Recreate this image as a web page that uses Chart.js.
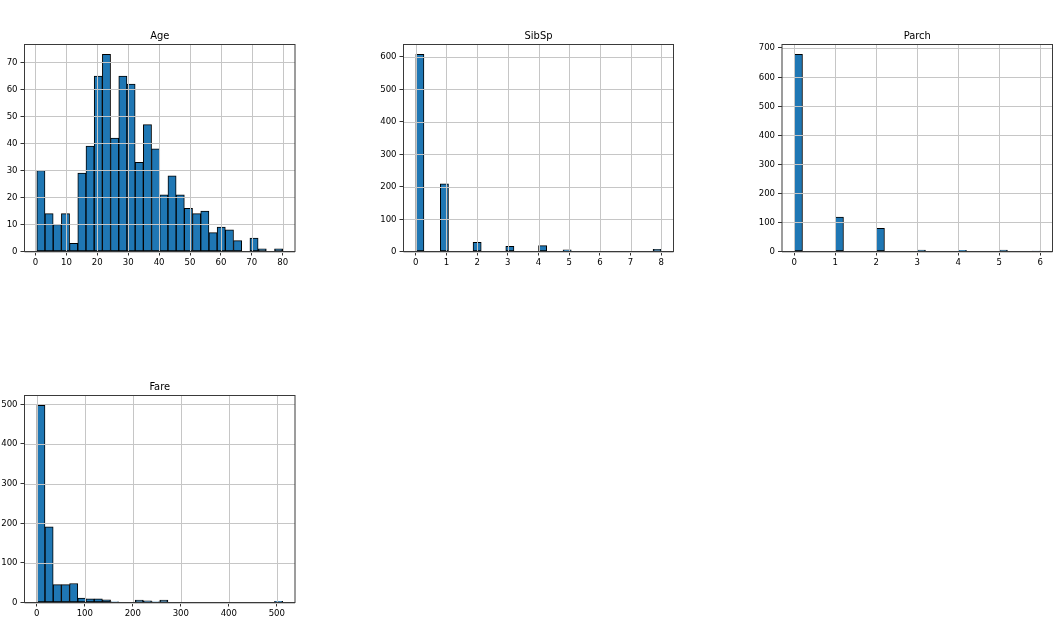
<!DOCTYPE html>
<html>
<head>
<meta charset="utf-8">
<script src="https://cdn.jsdelivr.net/npm/chart.js@4.4.0/dist/chart.umd.min.js"></script>
<style>
  body { margin: 0; background: #fff; width: 1064px; height: 627px; overflow: hidden; position: relative; }
  canvas { position: absolute; }
</style>
</head>
<body>
<canvas id="ageChart"></canvas>
<canvas id="sibspChart"></canvas>
<canvas id="parchChart"></canvas>
<canvas id="fareChart"></canvas>
<script>
// ====== histogram data (30 bins each, counts) ======
const ageRange = [0.42, 80];
const ageCounts = [30, 14, 10, 14, 3, 29, 39, 65, 73, 42, 65, 62, 33, 47, 38,
                   21, 28, 21, 16, 14, 15, 7, 9, 8, 4, 0, 5, 1, 0, 1];
const ageXTicks = [0, 10, 20, 30, 40, 50, 60, 70, 80];
const ageYTicks = [0, 10, 20, 30, 40, 50, 60, 70];

const sibspRange = [0, 8];
const sibspCounts = [608, 0, 0, 209, 0, 0, 0, 28, 0, 0, 0, 16, 0, 0, 0,
                     18, 0, 0, 5, 0, 0, 0, 0, 0, 0, 0, 0, 0, 0, 7];
const sibspXTicks = [0, 1, 2, 3, 4, 5, 6, 7, 8];
const sibspYTicks = [0, 100, 200, 300, 400, 500, 600];

const parchRange = [0, 6];
const parchCounts = [678, 0, 0, 0, 0, 118, 0, 0, 0, 0, 80, 0, 0, 0, 0,
                     5, 0, 0, 0, 0, 4, 0, 0, 0, 0, 5, 0, 0, 0, 1];
const parchXTicks = [0, 1, 2, 3, 4, 5, 6];
const parchYTicks = [0, 100, 200, 300, 400, 500, 600, 700];

const fareRange = [0, 512.3292];
const fareCounts = [497, 191, 45, 45, 48, 11, 9, 9, 7, 2, 0, 0, 6, 4, 2,
                    6, 0, 0, 0, 0, 0, 0, 0, 0, 0, 0, 0, 0, 0, 3];
const fareXTicks = [0, 100, 200, 300, 400, 500];
const fareYTicks = [0, 100, 200, 300, 400, 500];

Chart.defaults.font.family = "'DejaVu Sans Condensed', 'DejaVu Sans', sans-serif";
Chart.defaults.color = '#000';

// grid on top of the bars (like matplotlib) + the axes frame
const overlay = {
  id: 'overlay',
  afterDatasetsDraw(chart) {
    const { ctx, chartArea: a, scales } = chart;
    ctx.save();
    ctx.strokeStyle = '#c6c6c6';
    ctx.lineWidth = 1;
    ctx.beginPath();
    scales.x.ticks.forEach(t => {
      const px = Math.round(scales.x.getPixelForValue(t.value)) + 0.5;
      ctx.moveTo(px, a.top); ctx.lineTo(px, a.bottom);
    });
    scales.y.ticks.forEach(t => {
      const py = Math.round(scales.y.getPixelForValue(t.value)) + 0.5;
      ctx.moveTo(a.left, py); ctx.lineTo(a.right, py);
    });
    ctx.stroke();
    ctx.strokeStyle = '#3a3a3a';
    ctx.strokeRect(a.left, a.top, a.right - a.left, a.bottom - a.top);
    ctx.restore();
  }
};

// box = axes rectangle in page pixels
function makeHist(id, title, range, counts, xTicks, yTicks, box) {
  const xh = 20, titleH = 15, yw = 34;
  const cl = Math.floor(box.l) - 40;
  const ct = Math.floor(box.t) - 30;
  const cw = Math.ceil(box.r) + 12 - cl;
  const ch = Math.ceil(box.b) + 25 - ct;
  const canvas = document.getElementById(id);
  canvas.width = cw; canvas.height = ch;
  canvas.style.left = cl + 'px'; canvas.style.top = ct + 'px';
  canvas.style.width = cw + 'px'; canvas.style.height = ch + 'px';

  const w = (range[1] - range[0]) / counts.length;
  const span = range[1] - range[0];
  const data = counts.map((c, i) => ({ x: range[0] + (i + 0.5) * w, y: c }));

  return new Chart(canvas.getContext('2d'), {
    type: 'bar',
    data: {
      datasets: [{
        label: title,
        data: data,
        backgroundColor: '#1f77b4',
        borderColor: '#000',
        borderWidth: 1,
        borderSkipped: false,
        barPercentage: 1,
        categoryPercentage: 1
      }]
    },
    options: {
      responsive: false,
      animation: false,
      layout: {
        padding: {
          left: box.l - cl - yw,
          top: box.t - ct - titleH,
          right: cl + cw - box.r,
          bottom: ct + ch - box.b - xh
        }
      },
      plugins: {
        legend: { display: false },
        tooltip: { enabled: false },
        title: {
          display: true, text: title, fullSize: false,
          font: { size: 11, weight: 'normal', lineHeight: 1.2 }, color: '#000',
          padding: { top: 0, bottom: 15 - 13.2 }
        }
      },
      scales: {
        x: {
          type: 'linear', offset: false,
          min: range[0] - 0.05 * span, max: range[1] + 0.05 * span,
          afterBuildTicks: s => { s.ticks = xTicks.map(v => ({ value: v })); },
          afterFit: s => { s.height = xh; },
          grid: { offset: false, drawOnChartArea: false, tickLength: 4, tickColor: '#333', lineWidth: 1 },
          border: { display: false },
          ticks: { font: { size: 9.5 }, padding: 1.5, maxRotation: 0, autoSkip: false, callback: v => String(v) }
        },
        y: {
          min: 0, max: Math.max(...counts) * 1.05,
          afterBuildTicks: s => { s.ticks = yTicks.map(v => ({ value: v })); },
          afterFit: s => { s.width = yw; },
          grid: { drawOnChartArea: false, tickLength: 4, tickColor: '#333', lineWidth: 1 },
          border: { display: false },
          ticks: { font: { size: 9.5 }, padding: 3, autoSkip: false, callback: v => String(v) }
        }
      }
    },
    plugins: [overlay]
  });
}

makeHist('ageChart', 'Age', ageRange, ageCounts, ageXTicks, ageYTicks,
  { l: 24.5, t: 44.5, r: 295, b: 251.5 });
makeHist('sibspChart', 'SibSp', sibspRange, sibspCounts, sibspXTicks, sibspYTicks,
  { l: 403.5, t: 44.5, r: 673.5, b: 251.5 });
makeHist('parchChart', 'Parch', parchRange, parchCounts, parchXTicks, parchYTicks,
  { l: 782, t: 44.5, r: 1052.5, b: 251.5 });
makeHist('fareChart', 'Fare', fareRange, fareCounts, fareXTicks, fareYTicks,
  { l: 24.5, t: 395.5, r: 295, b: 602.5 });
</script>
</body>
</html>
